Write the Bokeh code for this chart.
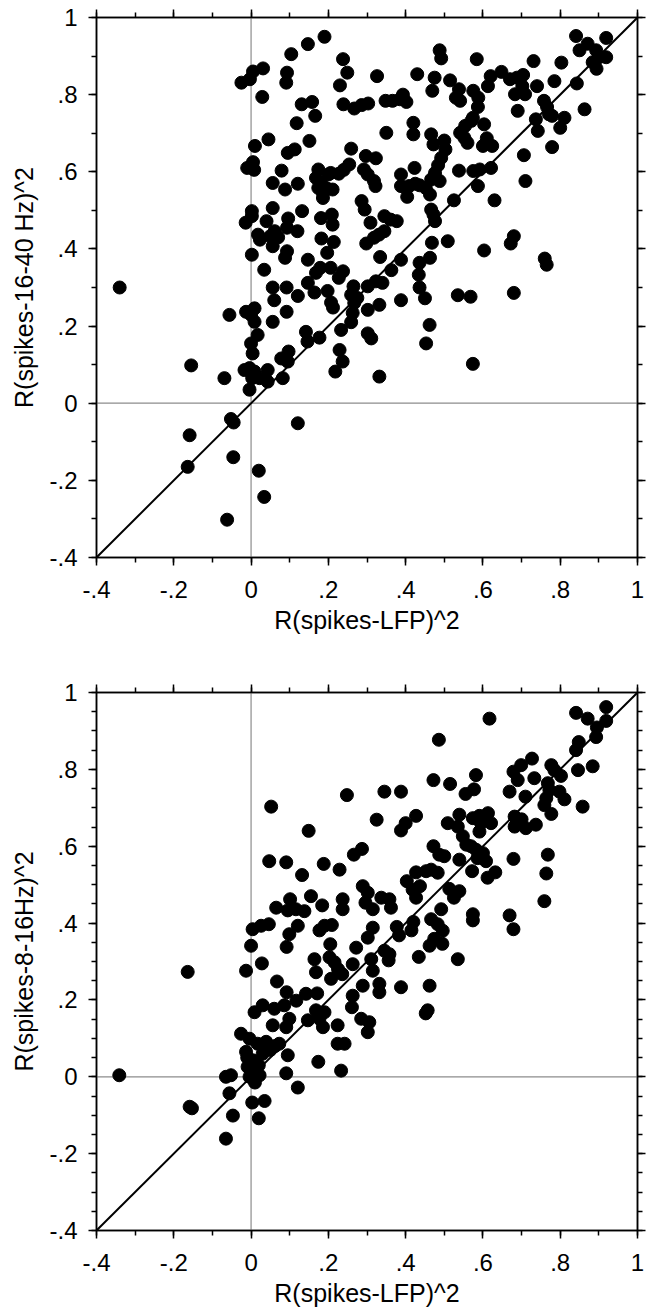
import numpy as np
from bokeh.plotting import figure
from bokeh.models import (Range1d, LinearAxis, FixedTicker, Span, Slope,
                          ColumnDataSource, CustomLabelingPolicy)
from bokeh.layouts import column
from bokeh.embed import file_html
from bokeh.resources import INLINE

# ---------------- text / ticks ----------------
x_title = "R(spikes-LFP)^2"
y_title_top = "R(spikes-16-40 Hz)^2"
y_title_bottom = "R(spikes-8-16Hz)^2"
major_ticks = [-0.4, -0.2, 0.0, 0.2, 0.4, 0.6, 0.8, 1.0]
tick_labels = ["-.4", "-.2", "0", ".2", ".4", ".6", ".8", "1"]
minor_ticks_tenth = np.round(np.arange(-0.4, 1.0001, 0.1), 2).tolist()
minor_ticks_twentieth = np.round(np.arange(-0.4, 1.0001, 0.05), 2).tolist()

# ---------------- data: top panel (x = R(spikes-LFP)^2, y = R(spikes-16-40 Hz)^2) ----------------
top_x = [
    -0.34, -0.025, -0.003, 0.005, 0.031, 0.029, 0.01, 0.045, -0.01, 0.005,
    0.008, 0.002, 0.002, -0.014, 0.018, 0.023, 0.04, 0.002, 0.034, 0.056,
    0.056, 0.061, 0.05, 0.07, 0.056, 0.088, 0.079, 0.093, 0.091, 0.104,
    0.147, 0.19, 0.095, 0.113, 0.121, 0.096, 0.093, 0.12, 0.132, 0.118,
    0.151, 0.131, 0.158, 0.166, 0.147, 0.093, 0.088, 0.147, 0.168, 0.179,
    0.174, 0.168, 0.181, 0.174, 0.186, 0.186, 0.2, 0.211, 0.206, 0.227,
    0.196, 0.181, 0.209, 0.211, 0.182, 0.214, 0.197, 0.206, 0.238, 0.249,
    0.23, 0.239, 0.267, 0.286, 0.303, 0.259, 0.254, 0.24, 0.297, 0.323,
    0.292, 0.302, 0.318, 0.322, 0.286, 0.294, 0.309, 0.298, 0.318, 0.331,
    0.345, 0.345, 0.361, 0.377, 0.334, 0.363, 0.238, 0.227, 0.265, 0.302,
    0.323, 0.34, 0.326, 0.348, 0.366, 0.385, 0.393, 0.402, 0.35, 0.388,
    0.388, 0.404, 0.409, 0.425, 0.436, 0.452, 0.463, 0.423, 0.42, 0.42,
    0.43, 0.388, 0.436, 0.434, 0.436, 0.463, 0.468, 0.469, 0.475, 0.488,
    0.492, 0.466, 0.472, 0.5, 0.503, 0.492, 0.484, 0.476, 0.466, 0.488,
    0.466, 0.472, 0.476, 0.509, 0.515, 0.538, 0.541, 0.53, 0.541, 0.554,
    0.57, 0.552, 0.56, 0.574, 0.538, 0.525, 0.575, 0.588, 0.587, 0.584,
    0.603, 0.61, 0.6, 0.624, 0.575, 0.592, 0.621, 0.587, 0.63, 0.613,
    0.62, 0.648, 0.67, 0.688, 0.683, 0.702, 0.704, 0.709, 0.69, 0.731,
    0.74, 0.737, 0.742, 0.758, 0.766, 0.771, 0.779, 0.785, 0.803, 0.811,
    0.8, 0.779, 0.706, 0.71, 0.603, 0.672, 0.68, 0.76, 0.765, 0.841,
    0.871, 0.85, 0.919, 0.893, 0.901, 0.919, 0.884, 0.894, 0.843, 0.863,
    0.056, 0.092, -0.056, -0.013, 0.009, 0.0, 0.009, 0.017, 0.0, 0.004,
    -0.017, -0.004, 0.009, 0.003, -0.069, -0.004, 0.022, 0.043, 0.043, 0.082,
    0.078, 0.097, 0.095, 0.142, 0.146, 0.177, 0.056, 0.092, 0.06, 0.121,
    0.164, 0.198, 0.207, 0.212, 0.259, 0.275, 0.267, 0.263, 0.259, 0.233,
    0.229, 0.237, 0.218, 0.302, 0.332, 0.302, 0.311, 0.332, 0.45, 0.388,
    0.453, 0.462, -0.052, -0.045, 0.121, -0.155, -0.159, -0.164, -0.046, 0.02,
    0.034, -0.062, 0.535, 0.568, 0.68, 0.574,
]
top_y = [
    0.30, 0.831, 0.84, 0.86, 0.868, 0.794, 0.667, 0.684, 0.61, 0.625,
    0.605, 0.498, 0.485, 0.468, 0.437, 0.424, 0.472, 0.385, 0.346, 0.571,
    0.506, 0.446, 0.433, 0.43, 0.407, 0.554, 0.603, 0.857, 0.831, 0.905,
    0.931, 0.95, 0.649, 0.658, 0.569, 0.479, 0.455, 0.446, 0.498, 0.726,
    0.68, 0.775, 0.781, 0.745, 0.372, 0.394, 0.377, 0.312, 0.338, 0.351,
    0.606, 0.584, 0.571, 0.558, 0.545, 0.532, 0.593, 0.554, 0.597, 0.595,
    0.557, 0.48, 0.489, 0.463, 0.427, 0.418, 0.39, 0.351, 0.892, 0.857,
    0.824, 0.775, 0.764, 0.773, 0.777, 0.66, 0.619, 0.605, 0.641, 0.635,
    0.606, 0.593, 0.576, 0.563, 0.524, 0.502, 0.468, 0.414, 0.429, 0.437,
    0.446, 0.485, 0.476, 0.472, 0.379, 0.345, 0.342, 0.325, 0.303, 0.303,
    0.316, 0.312, 0.848, 0.784, 0.784, 0.788, 0.8, 0.781, 0.701, 0.593,
    0.563, 0.535, 0.563, 0.569, 0.565, 0.558, 0.541, 0.61, 0.727, 0.697,
    0.853, 0.372, 0.364, 0.333, 0.30, 0.377, 0.416, 0.81, 0.844, 0.915,
    0.894, 0.697, 0.671, 0.681, 0.658, 0.636, 0.617, 0.597, 0.58, 0.576,
    0.502, 0.489, 0.472, 0.42, 0.837, 0.814, 0.784, 0.792, 0.701, 0.719,
    0.732, 0.688, 0.675, 0.74, 0.603, 0.526, 0.81, 0.792, 0.768, 0.892,
    0.723, 0.687, 0.667, 0.667, 0.602, 0.606, 0.61, 0.563, 0.526, 0.822,
    0.848, 0.859, 0.84, 0.844, 0.801, 0.822, 0.851, 0.801, 0.758, 0.887,
    0.822, 0.736, 0.706, 0.784, 0.768, 0.749, 0.745, 0.835, 0.883, 0.74,
    0.714, 0.664, 0.643, 0.576, 0.396, 0.414, 0.433, 0.375, 0.359, 0.952,
    0.932, 0.915, 0.947, 0.915, 0.897, 0.897, 0.884, 0.867, 0.829, 0.762,
    0.30, 0.30, 0.229, 0.237, 0.246, 0.229, 0.211, 0.177, 0.155, 0.129,
    0.086, 0.091, 0.082, 0.065, 0.065, 0.035, 0.065, 0.086, 0.056, 0.065,
    0.116, 0.134, 0.108, 0.185, 0.16, 0.17, 0.211, 0.237, 0.267, 0.278,
    0.287, 0.291, 0.261, 0.248, 0.281, 0.273, 0.26, 0.234, 0.21, 0.19,
    0.138, 0.108, 0.082, 0.242, 0.255, 0.181, 0.168, 0.069, 0.272, 0.267,
    0.155, 0.203, -0.041, -0.05, -0.052, 0.098, -0.083, -0.165, -0.14, -0.175,
    -0.243, -0.302, 0.28, 0.276, 0.286, 0.102,
]

# ---------------- data: bottom panel (x = R(spikes-LFP)^2, y = R(spikes-8-16Hz)^2) ----------------
bot_x = [
    0.052, 0.248, 0.345, 0.388, 0.149, 0.325, 0.427, 0.4, 0.388, 0.047,
    0.091, 0.132, 0.188, 0.229, 0.266, 0.287, 0.427, 0.403, 0.453, 0.418,
    0.437, 0.427, 0.065, 0.101, 0.095, 0.116, 0.138, 0.155, 0.184, 0.237,
    0.237, 0.289, 0.302, 0.296, 0.315, 0.337, 0.358, 0.362,
    0.486, 0.617, 0.841, 0.871, 0.919, 0.919, 0.895, 0.893, 0.848, 0.841,
    0.884, 0.846, 0.858, 0.727, 0.699, 0.679, 0.69, 0.733, 0.669, 0.71,
    0.777, 0.785, 0.802, 0.768, 0.772, 0.798, 0.811, 0.764, 0.759, 0.777,
    0.582, 0.577, 0.555, 0.472, 0.515, 0.539, 0.509, 0.535, 0.574, 0.591,
    0.613, 0.595, 0.621, 0.591, 0.548, 0.557, 0.569, 0.472, 0.487, 0.5,
    0.539, 0.582, 0.6, 0.608, 0.586, 0.572, 0.612, 0.632, 0.466, 0.483,
    0.682, 0.70, 0.682, 0.711, 0.737, 0.679, 0.768, 0.764, 0.759, 0.513,
    0.539, 0.525, 0.492, 0.669, 0.574,
    0.004, 0.026, 0.046, 0.0, -0.013, 0.028, 0.099, 0.121, 0.092, 0.177,
    0.19, 0.209, 0.205, 0.164, 0.168, 0.203, 0.216, 0.207, 0.225, 0.236,
    0.067, 0.092, 0.117, 0.142, 0.171, 0.03, 0.009, 0.06, 0.086, 0.056,
    0.091, 0.099, 0.147, 0.168, 0.19, 0.177, 0.186, 0.224, 0.224, 0.242,
    0.233, 0.174, 0.263, 0.272, 0.289, 0.263, 0.261, 0.285, 0.306, 0.302,
    0.332, 0.332, 0.388, 0.315, 0.311, 0.345, 0.358, 0.302, 0.315, 0.434,
    0.462, -0.026, -0.004, 0.017, 0.039, 0.073, 0.095, -0.013, 0.004, -0.009,
    0.013, -0.004, 0.022, 0.091, -0.065, -0.052, -0.056, 0.121, 0.003, 0.035,
    -0.047, 0.02, -0.065, 0.03, 0.05, 0.062, 0.01, -0.01, 0.02, -0.341,
    -0.164, -0.159, -0.153, 0.356, 0.377, 0.383, 0.415, 0.42, 0.474, 0.495,
    0.466, 0.483, 0.496, 0.574, 0.679, 0.535, 0.462, 0.457, 0.452,
]
bot_y = [
    0.703, 0.733, 0.742, 0.742, 0.64, 0.669, 0.679, 0.66, 0.641, 0.561,
    0.558, 0.525, 0.554, 0.539, 0.578, 0.593, 0.532, 0.509, 0.535, 0.487,
    0.496, 0.466, 0.44, 0.462, 0.433, 0.436, 0.431, 0.47, 0.446, 0.462,
    0.436, 0.496, 0.479, 0.453, 0.436, 0.466, 0.462, 0.44,
    0.877, 0.932, 0.947, 0.932, 0.962, 0.926, 0.909, 0.884, 0.871, 0.85,
    0.808, 0.798, 0.703, 0.828, 0.811, 0.794, 0.772, 0.777, 0.742, 0.729,
    0.811, 0.798, 0.783, 0.764, 0.746, 0.742, 0.722, 0.725, 0.707, 0.684,
    0.785, 0.748, 0.736, 0.772, 0.762, 0.682, 0.66, 0.651, 0.673, 0.679,
    0.686, 0.66, 0.66, 0.638, 0.626, 0.604, 0.6, 0.6, 0.578, 0.574,
    0.565, 0.591, 0.582, 0.561, 0.569, 0.535, 0.518, 0.532, 0.539, 0.531,
    0.677, 0.67, 0.651, 0.647, 0.656, 0.567, 0.578, 0.529, 0.457, 0.489,
    0.483, 0.466, 0.436, 0.42, 0.423,
    0.384, 0.393, 0.397, 0.341, 0.276, 0.295, 0.371, 0.393, 0.338, 0.381,
    0.393, 0.395, 0.345, 0.306, 0.272, 0.311, 0.298, 0.255, 0.28, 0.267,
    0.248, 0.22, 0.198, 0.216, 0.217, 0.186, 0.168, 0.177, 0.186, 0.134,
    0.129, 0.151, 0.147, 0.173, 0.168, 0.151, 0.129, 0.134, 0.086, 0.086,
    0.016, 0.039, 0.293, 0.336, 0.237, 0.211, 0.181, 0.151, 0.142, 0.116,
    0.242, 0.22, 0.233, 0.276, 0.306, 0.328, 0.319, 0.362, 0.388, 0.312,
    0.341, 0.112, 0.099, 0.086, 0.091, 0.086, 0.056, 0.065, 0.043, 0.026,
    0.013, 0.0, 0.004, 0.009, 0.0, 0.004, -0.043, -0.028, -0.067, -0.063,
    -0.101, -0.108, -0.161, 0.06, 0.07, 0.08, -0.015, 0.05, 0.03, 0.004,
    0.273, -0.078, -0.082, 0.303, 0.39, 0.368, 0.381, 0.403, 0.359, 0.346,
    0.41, 0.397, 0.38, 0.407, 0.384, 0.306, 0.237, 0.173, 0.165,
]

FONT = "Liberation Sans"
label_map = {t: l for t, l in zip(major_ticks, tick_labels)}


def style_axis(ax, minor, show_labels):
    ax.ticker = FixedTicker(ticks=major_ticks, minor_ticks=minor)
    ax.axis_line_color = "black"
    ax.axis_line_width = 1.5
    ax.major_tick_line_color = "black"
    ax.major_tick_line_width = 1.5
    ax.minor_tick_line_color = "black"
    ax.minor_tick_line_width = 1.5
    ax.major_tick_in = 0
    ax.major_tick_out = 8
    ax.minor_tick_in = 0
    ax.minor_tick_out = 5
    if show_labels:
        ax.major_label_overrides = label_map
        ax.major_label_text_font = FONT
        ax.major_label_text_font_size = "24px"
        ax.major_label_text_color = "black"
        ax.axis_label_text_font = FONT
        ax.axis_label_text_font_size = "25px"
        ax.axis_label_text_font_style = "normal"
        ax.axis_label_text_color = "black"
    else:
        # tick marks only: the mirrored axes carry no labels (none drawn, no space taken)
        ax.major_label_policy = CustomLabelingPolicy(code="""
            for (const i of indices) { indices.unset(i) }
            return indices
        """)
        ax.major_label_text_font_size = "0px"
        ax.major_label_standoff = 0


def make_panel(xs, ys, ytitle, yminor, height, top_border, bottom_border):
    p = figure(width=649, height=height,
               x_range=Range1d(-0.4, 1.0), y_range=Range1d(-0.4, 1.0),
               output_backend="svg", toolbar_location=None,
               min_border_left=96, min_border_right=12,
               min_border_top=top_border, min_border_bottom=bottom_border,
               x_axis_label=x_title, y_axis_label=ytitle)
    p.grid.visible = False
    p.background_fill_color = "white"
    p.border_fill_color = "white"
    p.outline_line_color = "black"
    p.outline_line_width = 1.5

    xa = p.xaxis[0]
    ya = p.yaxis[0]
    style_axis(xa, minor_ticks_tenth, True)
    style_axis(ya, yminor, True)
    xa.major_label_standoff = 15
    xa.axis_label_standoff = 5
    ya.major_label_standoff = 11
    ya.axis_label_standoff = 8

    top_ax = LinearAxis()
    style_axis(top_ax, minor_ticks_tenth, False)
    p.add_layout(top_ax, "above")
    right_ax = LinearAxis()
    style_axis(right_ax, yminor, False)
    p.add_layout(right_ax, "right")

    p.add_layout(Span(location=0, dimension="height", line_color="#8c8c8c",
                      line_width=1.2, level="underlay"))
    p.add_layout(Span(location=0, dimension="width", line_color="#8c8c8c",
                      line_width=1.2, level="underlay"))

    src = ColumnDataSource(dict(x=xs, y=ys))
    p.scatter(x="x", y="y", source=src, marker="circle", size=13,
              fill_color="black", line_color="black")
    p.add_layout(Slope(gradient=1, y_intercept=0, line_color="black", line_width=2))
    return p


p1 = make_panel(top_x, top_y, y_title_top, minor_ticks_tenth, 675, 17, 118)
p2 = make_panel(bot_x, bot_y, y_title_bottom, minor_ticks_twentieth, 634, 17, 77)

layout = column(p1, p2, spacing=0)
open("out.html", "w").write(file_html(layout, INLINE))
